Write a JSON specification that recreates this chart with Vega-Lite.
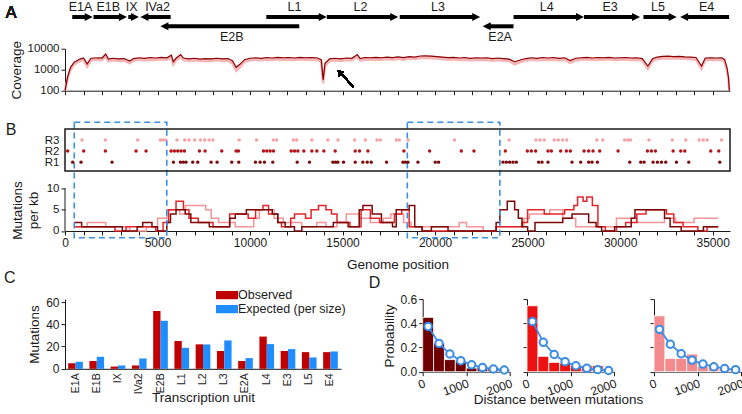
{
"$schema": "https://vega.github.io/schema/vega-lite/v6.json",
"background": "white",
"padding": {"left": 4, "top": 1, "right": 0, "bottom": 0},
"config": {
  "font": "Liberation Sans",
  "view": {"stroke": null},
  "axis": {"labelFont": "Liberation Sans", "titleFont": "Liberation Sans", "labelFontSize": 12, "titleFontSize": 13.5, "titleFontWeight": "normal", "labelColor": "#1a1a1a", "titleColor": "#1a1a1a", "domainColor": "#1a1a1a", "tickColor": "#1a1a1a", "grid": false, "tickSize": 4, "labelPadding": 2, "labelOverlap": false, "labelBound": false},
  "title": {"font": "Liberation Sans", "fontSize": 16, "fontWeight": "normal", "color": "#1a1a1a"},
  "legend": {"labelFont": "Liberation Sans", "labelFontSize": 12.5, "labelColor": "#1a1a1a"}
},
"datasets": {
  "genes": [
    {"gene":"E1A","start":390,"end":1280,"dir":"right","track":"upper"},
    {"gene":"E1B","start":1540,"end":3130,"dir":"right","track":"upper"},
    {"gene":"IX","start":3420,"end":3780,"dir":"right","track":"upper"},
    {"gene":"IVa2","start":4290,"end":5710,"dir":"left","track":"upper"},
    {"gene":"E2B","start":5370,"end":12660,"dir":"left","track":"lower"},
    {"gene":"L1","start":10880,"end":13930,"dir":"right","track":"upper"},
    {"gene":"L2","start":14150,"end":17790,"dir":"right","track":"upper"},
    {"gene":"L3","start":18090,"end":22220,"dir":"right","track":"upper"},
    {"gene":"E2A","start":22790,"end":24240,"dir":"left","track":"lower"},
    {"gene":"L4","start":24240,"end":27830,"dir":"right","track":"upper"},
    {"gene":"E3","start":28050,"end":30860,"dir":"right","track":"upper"},
    {"gene":"L5","start":31260,"end":32840,"dir":"right","track":"upper"},
    {"gene":"E4","start":33460,"end":35890,"dir":"left","track":"upper"}
  ],
  "coverage": [
    {"pos":0,"cov":100,"low":100},{"pos":150,"cov":500,"low":400},{"pos":300,"cov":1300,"low":1000},{"pos":500,"cov":2300,"low":1800},
    {"pos":800,"cov":3200,"low":2600},{"pos":1000,"cov":3600,"low":2900},{"pos":1200,"cov":1900,"low":1400},{"pos":1400,"cov":3500,"low":2800},
    {"pos":1800,"cov":3700,"low":3000},{"pos":2000,"cov":3600,"low":2900},{"pos":2200,"cov":5600,"low":4200},{"pos":2350,"cov":3200,"low":2500},
    {"pos":2600,"cov":3500,"low":2800},{"pos":2900,"cov":3300,"low":2600},{"pos":3200,"cov":3400,"low":2700},{"pos":3500,"cov":2600,"low":2000},
    {"pos":3700,"cov":3400,"low":2700},{"pos":4000,"cov":3700,"low":3000},{"pos":4300,"cov":3500,"low":2800},{"pos":4600,"cov":3800,"low":3000},
    {"pos":4900,"cov":3600,"low":2900},{"pos":5200,"cov":3900,"low":3100},{"pos":5500,"cov":3700,"low":3000},{"pos":5750,"cov":4900,"low":3800},
    {"pos":5850,"cov":2400,"low":1800},{"pos":6000,"cov":3500,"low":2800},{"pos":6250,"cov":5300,"low":4000},{"pos":6400,"cov":3600,"low":2900},
    {"pos":6700,"cov":3300,"low":2600},{"pos":7000,"cov":3500,"low":2800},{"pos":7300,"cov":3200,"low":2600},{"pos":7600,"cov":3400,"low":2700},
    {"pos":7900,"cov":3300,"low":2600},{"pos":8200,"cov":3500,"low":2800},{"pos":8500,"cov":3300,"low":2600},{"pos":8800,"cov":3400,"low":2700},
    {"pos":9050,"cov":2700,"low":2000},{"pos":9250,"cov":1300,"low":900},{"pos":9450,"cov":1800,"low":1300},{"pos":9700,"cov":3000,"low":2400},
    {"pos":10000,"cov":3500,"low":2800},{"pos":10300,"cov":3700,"low":3000},{"pos":10600,"cov":3500,"low":2800},{"pos":10900,"cov":3800,"low":3000},
    {"pos":11200,"cov":3600,"low":2900},{"pos":11500,"cov":3900,"low":3100},{"pos":11800,"cov":3700,"low":3000},{"pos":12100,"cov":3800,"low":3000},
    {"pos":12400,"cov":3600,"low":2900},{"pos":12700,"cov":3900,"low":3100},{"pos":13000,"cov":3700,"low":3000},{"pos":13300,"cov":3800,"low":3000},
    {"pos":13600,"cov":3700,"low":3000},{"pos":13850,"cov":3000,"low":2300},{"pos":13950,"cov":330,"low":220},{"pos":14050,"cov":2000,"low":1500},
    {"pos":14300,"cov":3300,"low":2600},{"pos":14600,"cov":3500,"low":2800},{"pos":14900,"cov":3300,"low":2600},{"pos":15200,"cov":3600,"low":2900},
    {"pos":15500,"cov":3500,"low":2800},{"pos":15800,"cov":5300,"low":4000},{"pos":15950,"cov":3400,"low":2700},{"pos":16200,"cov":3800,"low":3000},
    {"pos":16500,"cov":3700,"low":3000},{"pos":16800,"cov":3900,"low":3100},{"pos":17100,"cov":3700,"low":3000},{"pos":17400,"cov":4000,"low":3200},
    {"pos":17700,"cov":3800,"low":3000},{"pos":18000,"cov":4100,"low":3300},{"pos":18300,"cov":3800,"low":3000},{"pos":18600,"cov":4200,"low":3400},
    {"pos":18900,"cov":4000,"low":3200},{"pos":19200,"cov":4500,"low":3600},{"pos":19500,"cov":4600,"low":3700},{"pos":19800,"cov":4400,"low":3500},
    {"pos":20100,"cov":4200,"low":3400},{"pos":20400,"cov":4000,"low":3200},{"pos":20700,"cov":3800,"low":3000},{"pos":21000,"cov":3900,"low":3100},
    {"pos":21300,"cov":3600,"low":2900},{"pos":21600,"cov":3800,"low":3000},{"pos":21900,"cov":3500,"low":2800},{"pos":22200,"cov":3700,"low":3000},
    {"pos":22500,"cov":3600,"low":2900},{"pos":22800,"cov":3700,"low":3000},{"pos":23100,"cov":3400,"low":2700},{"pos":23400,"cov":3600,"low":2900},
    {"pos":23700,"cov":3400,"low":2700},{"pos":24000,"cov":3200,"low":2600},{"pos":24300,"cov":2400,"low":1800},{"pos":24600,"cov":2900,"low":2300},
    {"pos":24900,"cov":3400,"low":2700},{"pos":25200,"cov":3700,"low":3000},{"pos":25500,"cov":3500,"low":2800},{"pos":25800,"cov":3800,"low":3000},
    {"pos":26100,"cov":3600,"low":2900},{"pos":26400,"cov":3800,"low":3000},{"pos":26700,"cov":3500,"low":2800},{"pos":27000,"cov":3700,"low":3000},
    {"pos":27300,"cov":2700,"low":2100},{"pos":27600,"cov":3500,"low":2800},{"pos":27900,"cov":3700,"low":3000},{"pos":28200,"cov":3900,"low":3100},
    {"pos":28500,"cov":3600,"low":2900},{"pos":28800,"cov":3800,"low":3000},{"pos":29100,"cov":3700,"low":3000},{"pos":29400,"cov":3900,"low":3100},
    {"pos":29700,"cov":3600,"low":2900},{"pos":30000,"cov":3700,"low":3000},{"pos":30300,"cov":3800,"low":3000},{"pos":30600,"cov":3600,"low":2900},
    {"pos":30900,"cov":3700,"low":3000},{"pos":31200,"cov":3400,"low":2700},{"pos":31500,"cov":1500,"low":1100},{"pos":31750,"cov":3300,"low":2600},
    {"pos":32000,"cov":4000,"low":3200},{"pos":32300,"cov":4300,"low":3400},{"pos":32600,"cov":4400,"low":3500},{"pos":32900,"cov":4200,"low":3400},
    {"pos":33200,"cov":4300,"low":3400},{"pos":33500,"cov":4100,"low":3300},{"pos":33800,"cov":4000,"low":3200},{"pos":34100,"cov":3800,"low":3000},
    {"pos":34400,"cov":1500,"low":1100},{"pos":34600,"cov":3600,"low":2900},{"pos":34900,"cov":3700,"low":3000},{"pos":35200,"cov":3600,"low":2900},
    {"pos":35500,"cov":3700,"low":3000},{"pos":35650,"cov":3000,"low":2300},{"pos":35780,"cov":1200,"low":900},{"pos":35860,"cov":400,"low":300},
    {"pos":35900,"cov":100,"low":100}
  ],
  "regions": [{"start":500,"end":5500},{"start":18500,"end":23500}],
  "dots": [
    {"rep":"R3","pos":920},{"rep":"R3","pos":2180},{"rep":"R3","pos":3930},{"rep":"R3","pos":5150},{"rep":"R3","pos":5290},{"rep":"R3","pos":5440},
    {"rep":"R3","pos":6050},{"rep":"R3","pos":6470},{"rep":"R3","pos":6700},{"rep":"R3","pos":7010},{"rep":"R3","pos":7320},{"rep":"R3","pos":7550},
    {"rep":"R3","pos":7790},{"rep":"R3","pos":8000},{"rep":"R3","pos":9410},{"rep":"R3","pos":10350},{"rep":"R3","pos":11260},{"rep":"R3","pos":11440},
    {"rep":"R3","pos":12340},{"rep":"R3","pos":12520},{"rep":"R3","pos":13340},{"rep":"R3","pos":14200},{"rep":"R3","pos":14750},{"rep":"R3","pos":15650},
    {"rep":"R3","pos":16230},{"rep":"R3","pos":16860},{"rep":"R3","pos":17040},{"rep":"R3","pos":17910},{"rep":"R3","pos":18070},{"rep":"R3","pos":18540},
    {"rep":"R3","pos":21050},{"rep":"R3","pos":24000},{"rep":"R3","pos":25450},{"rep":"R3","pos":25670},{"rep":"R3","pos":25900},{"rep":"R3","pos":26440},
    {"rep":"R3","pos":26660},{"rep":"R3","pos":26890},{"rep":"R3","pos":27110},{"rep":"R3","pos":28740},{"rep":"R3","pos":29060},{"rep":"R3","pos":30240},
    {"rep":"R3","pos":30420},{"rep":"R3","pos":30560},{"rep":"R3","pos":31560},{"rep":"R3","pos":32820},{"rep":"R3","pos":33550},{"rep":"R3","pos":34270},
    {"rep":"R3","pos":34490},{"rep":"R3","pos":34700},{"rep":"R3","pos":35480},
    {"rep":"R2","pos":144},{"rep":"R2","pos":1010},{"rep":"R2","pos":2181},{"rep":"R2","pos":3840},{"rep":"R2","pos":4380},{"rep":"R2","pos":5733},
    {"rep":"R2","pos":5913},{"rep":"R2","pos":6093},{"rep":"R2","pos":6273},{"rep":"R2","pos":6453},{"rep":"R2","pos":7264},{"rep":"R2","pos":7570},
    {"rep":"R2","pos":8472},{"rep":"R2","pos":9247},{"rep":"R2","pos":9373},{"rep":"R2","pos":10725},{"rep":"R2","pos":10905},{"rep":"R2","pos":11085},
    {"rep":"R2","pos":11266},{"rep":"R2","pos":12222},{"rep":"R2","pos":12403},{"rep":"R2","pos":12583},{"rep":"R2","pos":12907},{"rep":"R2","pos":13340},
    {"rep":"R2","pos":13610},{"rep":"R2","pos":13989},{"rep":"R2","pos":14602},{"rep":"R2","pos":15683},{"rep":"R2","pos":15918},{"rep":"R2","pos":16369},
    {"rep":"R2","pos":18315},{"rep":"R2","pos":19703},{"rep":"R2","pos":21416},{"rep":"R2","pos":22101},{"rep":"R2","pos":23795},{"rep":"R2","pos":24985},
    {"rep":"R2","pos":25201},{"rep":"R2","pos":25436},{"rep":"R2","pos":26103},{"rep":"R2","pos":26283},{"rep":"R2","pos":26788},{"rep":"R2","pos":27094},
    {"rep":"R2","pos":27311},{"rep":"R2","pos":28050},{"rep":"R2","pos":28302},{"rep":"R2","pos":28536},{"rep":"R2","pos":28897},{"rep":"R2","pos":29889},
    {"rep":"R2","pos":31475},{"rep":"R2","pos":31691},{"rep":"R2","pos":31908},{"rep":"R2","pos":32863},{"rep":"R2","pos":33277},{"rep":"R2","pos":33494},
    {"rep":"R2","pos":34900},{"rep":"R2","pos":35332},
    {"rep":"R1","pos":415},{"rep":"R1","pos":866},{"rep":"R1","pos":2542},{"rep":"R1","pos":5859},{"rep":"R1","pos":6237},{"rep":"R1","pos":6399},
    {"rep":"R1","pos":6543},{"rep":"R1","pos":6904},{"rep":"R1","pos":7174},{"rep":"R1","pos":7895},{"rep":"R1","pos":8219},{"rep":"R1","pos":9013},
    {"rep":"R1","pos":9391},{"rep":"R1","pos":10292},{"rep":"R1","pos":10544},{"rep":"R1","pos":10779},{"rep":"R1","pos":11230},{"rep":"R1","pos":12547},
    {"rep":"R1","pos":13214},{"rep":"R1","pos":14476},{"rep":"R1","pos":14620},{"rep":"R1","pos":14746},{"rep":"R1","pos":15053},{"rep":"R1","pos":15683},
    {"rep":"R1","pos":16098},{"rep":"R1","pos":16332},{"rep":"R1","pos":16549},{"rep":"R1","pos":17378},{"rep":"R1","pos":18262},{"rep":"R1","pos":18388},
    {"rep":"R1","pos":18532},{"rep":"R1","pos":19073},{"rep":"R1","pos":20010},{"rep":"R1","pos":20190},{"rep":"R1","pos":23669},{"rep":"R1","pos":23849},
    {"rep":"R1","pos":24030},{"rep":"R1","pos":24210},{"rep":"R1","pos":24390},{"rep":"R1","pos":25598},{"rep":"R1","pos":25778},{"rep":"R1","pos":26103},
    {"rep":"R1","pos":27401},{"rep":"R1","pos":27869},{"rep":"R1","pos":28302},{"rep":"R1","pos":28482},{"rep":"R1","pos":28771},{"rep":"R1","pos":30520},
    {"rep":"R1","pos":31115},{"rep":"R1","pos":31295},{"rep":"R1","pos":31782},{"rep":"R1","pos":32016},{"rep":"R1","pos":32233},{"rep":"R1","pos":32467},
    {"rep":"R1","pos":33044},{"rep":"R1","pos":33711},{"rep":"R1","pos":35387}
  ],
  "mut": [
    {"rep":"R3","pos":500,"rate":1},{"rep":"R3","pos":1200,"rate":2},{"rep":"R3","pos":2200,"rate":1},{"rep":"R3","pos":3500,"rate":0},{"rep":"R3","pos":4400,"rate":1},
    {"rep":"R3","pos":5000,"rate":3},{"rep":"R3","pos":5500,"rate":5},{"rep":"R3","pos":6200,"rate":4},{"rep":"R3","pos":6500,"rate":6},{"rep":"R3","pos":7600,"rate":5},
    {"rep":"R3","pos":7900,"rate":3},{"rep":"R3","pos":8300,"rate":2},{"rep":"R3","pos":9200,"rate":1},{"rep":"R3","pos":10200,"rate":3},{"rep":"R3","pos":10500,"rate":5},
    {"rep":"R3","pos":11300,"rate":3},{"rep":"R3","pos":11800,"rate":2},{"rep":"R3","pos":12800,"rate":1},{"rep":"R3","pos":13600,"rate":2},{"rep":"R3","pos":14100,"rate":1},
    {"rep":"R3","pos":14700,"rate":2},{"rep":"R3","pos":15200,"rate":4},{"rep":"R3","pos":15900,"rate":3},{"rep":"R3","pos":16500,"rate":2},{"rep":"R3","pos":17200,"rate":3},
    {"rep":"R3","pos":17600,"rate":4},{"rep":"R3","pos":18300,"rate":2},{"rep":"R3","pos":18700,"rate":1},{"rep":"R3","pos":21300,"rate":2},{"rep":"R3","pos":21700,"rate":1},
    {"rep":"R3","pos":22600,"rate":0},{"rep":"R3","pos":23300,"rate":1},{"rep":"R3","pos":24800,"rate":3},{"rep":"R3","pos":25100,"rate":4},{"rep":"R3","pos":26200,"rate":5},
    {"rep":"R3","pos":26900,"rate":3},{"rep":"R3","pos":27600,"rate":1},{"rep":"R3","pos":28900,"rate":1},{"rep":"R3","pos":29800,"rate":3},{"rep":"R3","pos":30900,"rate":2},
    {"rep":"R3","pos":32400,"rate":3},{"rep":"R3","pos":33000,"rate":2},{"rep":"R3","pos":34000,"rate":3},{"rep":"R3","pos":35300,"rate":3},
    {"rep":"R2","pos":500,"rate":1},{"rep":"R2","pos":2700,"rate":0},{"rep":"R2","pos":3300,"rate":1},{"rep":"R2","pos":4900,"rate":0},{"rep":"R2","pos":5300,"rate":2},
    {"rep":"R2","pos":5600,"rate":5},{"rep":"R2","pos":6000,"rate":7},{"rep":"R2","pos":6400,"rate":5},{"rep":"R2","pos":6700,"rate":3},{"rep":"R2","pos":7200,"rate":2},
    {"rep":"R2","pos":8000,"rate":1},{"rep":"R2","pos":8900,"rate":4},{"rep":"R2","pos":9900,"rate":3},{"rep":"R2","pos":10300,"rate":5},{"rep":"R2","pos":10700,"rate":6},
    {"rep":"R2","pos":11000,"rate":4},{"rep":"R2","pos":11500,"rate":2},{"rep":"R2","pos":11700,"rate":1},{"rep":"R2","pos":12200,"rate":3},{"rep":"R2","pos":12400,"rate":4},
    {"rep":"R2","pos":13000,"rate":3},{"rep":"R2","pos":13300,"rate":5},{"rep":"R2","pos":13700,"rate":6},{"rep":"R2","pos":14100,"rate":5},{"rep":"R2","pos":14400,"rate":4},
    {"rep":"R2","pos":14700,"rate":2},{"rep":"R2","pos":15400,"rate":1},{"rep":"R2","pos":16000,"rate":5},{"rep":"R2","pos":16500,"rate":3},{"rep":"R2","pos":17000,"rate":2},
    {"rep":"R2","pos":17800,"rate":4},{"rep":"R2","pos":18200,"rate":5},{"rep":"R2","pos":18600,"rate":1},{"rep":"R2","pos":19300,"rate":0},{"rep":"R2","pos":23300,"rate":1},
    {"rep":"R2","pos":24700,"rate":2},{"rep":"R2","pos":25000,"rate":5},{"rep":"R2","pos":25900,"rate":4},{"rep":"R2","pos":27000,"rate":5},{"rep":"R2","pos":27500,"rate":6},
    {"rep":"R2","pos":27700,"rate":8},{"rep":"R2","pos":28000,"rate":7},{"rep":"R2","pos":28200,"rate":8},{"rep":"R2","pos":28500,"rate":6},{"rep":"R2","pos":28800,"rate":1},
    {"rep":"R2","pos":29200,"rate":0},{"rep":"R2","pos":29800,"rate":1},{"rep":"R2","pos":30300,"rate":2},{"rep":"R2","pos":30900,"rate":4},{"rep":"R2","pos":31400,"rate":5},
    {"rep":"R2","pos":32500,"rate":4},{"rep":"R2","pos":32900,"rate":2},{"rep":"R2","pos":33400,"rate":1},{"rep":"R2","pos":34200,"rate":0},{"rep":"R2","pos":34700,"rate":1},
    {"rep":"R2","pos":35300,"rate":1},
    {"rep":"R1","pos":500,"rate":2},{"rep":"R1","pos":900,"rate":1},{"rep":"R1","pos":3100,"rate":0},{"rep":"R1","pos":3900,"rate":1},{"rep":"R1","pos":4200,"rate":2},
    {"rep":"R1","pos":4700,"rate":1},{"rep":"R1","pos":5000,"rate":0},{"rep":"R1","pos":5500,"rate":2},{"rep":"R1","pos":5700,"rate":4},{"rep":"R1","pos":6000,"rate":5},
    {"rep":"R1","pos":6500,"rate":4},{"rep":"R1","pos":6800,"rate":2},{"rep":"R1","pos":7800,"rate":1},{"rep":"R1","pos":8900,"rate":3},{"rep":"R1","pos":9200,"rate":4},
    {"rep":"R1","pos":9800,"rate":5},{"rep":"R1","pos":11200,"rate":4},{"rep":"R1","pos":11500,"rate":2},{"rep":"R1","pos":11900,"rate":1},{"rep":"R1","pos":12400,"rate":0},
    {"rep":"R1","pos":12800,"rate":1},{"rep":"R1","pos":14500,"rate":2},{"rep":"R1","pos":15300,"rate":1},{"rep":"R1","pos":15900,"rate":5},{"rep":"R1","pos":16100,"rate":6},
    {"rep":"R1","pos":16600,"rate":4},{"rep":"R1","pos":17100,"rate":2},{"rep":"R1","pos":17700,"rate":1},{"rep":"R1","pos":17900,"rate":5},{"rep":"R1","pos":18600,"rate":6},
    {"rep":"R1","pos":18900,"rate":1},{"rep":"R1","pos":19300,"rate":0},{"rep":"R1","pos":19800,"rate":1},{"rep":"R1","pos":20700,"rate":0},{"rep":"R1","pos":23300,"rate":2},
    {"rep":"R1","pos":23500,"rate":5},{"rep":"R1","pos":23900,"rate":7},{"rep":"R1","pos":24300,"rate":5},{"rep":"R1","pos":24500,"rate":3},{"rep":"R1","pos":24700,"rate":1},
    {"rep":"R1","pos":25000,"rate":0},{"rep":"R1","pos":25400,"rate":2},{"rep":"R1","pos":26900,"rate":3},{"rep":"R1","pos":27400,"rate":4},{"rep":"R1","pos":28300,"rate":2},
    {"rep":"R1","pos":28700,"rate":1},{"rep":"R1","pos":29000,"rate":0},{"rep":"R1","pos":29700,"rate":1},{"rep":"R1","pos":30600,"rate":3},{"rep":"R1","pos":30800,"rate":5},
    {"rep":"R1","pos":32400,"rate":3},{"rep":"R1","pos":32700,"rate":1},{"rep":"R1","pos":33300,"rate":0},{"rep":"R1","pos":34500,"rate":1},{"rep":"R1","pos":35300,"rate":1}
  ],
  "units": [
    {"unit":"E1A","type":"Observed","value":5},{"unit":"E1A","type":"Expected (per size)","value":6.3},
    {"unit":"E1B","type":"Observed","value":7},{"unit":"E1B","type":"Expected (per size)","value":10.8},
    {"unit":"IX","type":"Observed","value":2},{"unit":"IX","type":"Expected (per size)","value":3.0},
    {"unit":"IVa2","type":"Observed","value":3},{"unit":"IVa2","type":"Expected (per size)","value":9.3},
    {"unit":"E2B","type":"Observed","value":52},{"unit":"E2B","type":"Expected (per size)","value":43.2},
    {"unit":"L1","type":"Observed","value":25},{"unit":"L1","type":"Expected (per size)","value":18.9},
    {"unit":"L2","type":"Observed","value":22},{"unit":"L2","type":"Expected (per size)","value":21.9},
    {"unit":"L3","type":"Observed","value":16},{"unit":"L3","type":"Expected (per size)","value":25.5},
    {"unit":"E2A","type":"Observed","value":7},{"unit":"E2A","type":"Expected (per size)","value":9.6},
    {"unit":"L4","type":"Observed","value":29},{"unit":"L4","type":"Expected (per size)","value":22.2},
    {"unit":"E3","type":"Observed","value":16},{"unit":"E3","type":"Expected (per size)","value":17.7},
    {"unit":"L5","type":"Observed","value":15},{"unit":"L5","type":"Expected (per size)","value":10.2},
    {"unit":"E4","type":"Observed","value":15},{"unit":"E4","type":"Expected (per size)","value":15.6}
  ],
  "hist": [
    {"rep":"R1","start":0,"end":250,"prob":0.449},{"rep":"R1","start":250,"end":500,"prob":0.234},{"rep":"R1","start":500,"end":750,"prob":0.1},{"rep":"R1","start":750,"end":1000,"prob":0.083},
    {"rep":"R1","start":1000,"end":1250,"prob":0.03},{"rep":"R1","start":1250,"end":1500,"prob":0.04},{"rep":"R1","start":1500,"end":1750,"prob":0.035},{"rep":"R1","start":1750,"end":2000,"prob":0.02},
    {"rep":"R2","start":0,"end":250,"prob":0.545},{"rep":"R2","start":250,"end":500,"prob":0.127},{"rep":"R2","start":500,"end":750,"prob":0.077},{"rep":"R2","start":750,"end":1000,"prob":0.07},
    {"rep":"R2","start":1000,"end":1250,"prob":0.05},{"rep":"R2","start":1250,"end":1500,"prob":0.05},{"rep":"R2","start":1500,"end":1750,"prob":0.05},{"rep":"R2","start":1750,"end":2000,"prob":0.01},
    {"rep":"R3","start":0,"end":250,"prob":0.462},{"rep":"R3","start":250,"end":500,"prob":0.11},{"rep":"R3","start":500,"end":750,"prob":0.11},{"rep":"R3","start":750,"end":1000,"prob":0.146},
    {"rep":"R3","start":1000,"end":1250,"prob":0.044},{"rep":"R3","start":1250,"end":1500,"prob":0.04},{"rep":"R3","start":1500,"end":1750,"prob":0.03},{"rep":"R3","start":1750,"end":2000,"prob":0.02}
  ],
  "expected": [
    {"rep":"R1","center":125,"prob":0.374},{"rep":"R1","center":375,"prob":0.234},{"rep":"R1","center":625,"prob":0.146},{"rep":"R1","center":875,"prob":0.091},
    {"rep":"R1","center":1125,"prob":0.057},{"rep":"R1","center":1375,"prob":0.035},{"rep":"R1","center":1625,"prob":0.022},{"rep":"R1","center":1875,"prob":0.014},
    {"rep":"R2","center":125,"prob":0.415},{"rep":"R2","center":375,"prob":0.243},{"rep":"R2","center":625,"prob":0.142},{"rep":"R2","center":875,"prob":0.083},
    {"rep":"R2","center":1125,"prob":0.049},{"rep":"R2","center":1375,"prob":0.028},{"rep":"R2","center":1625,"prob":0.017},{"rep":"R2","center":1875,"prob":0.01},
    {"rep":"R3","center":125,"prob":0.35},{"rep":"R3","center":375,"prob":0.227},{"rep":"R3","center":625,"prob":0.148},{"rep":"R3","center":875,"prob":0.096},
    {"rep":"R3","center":1125,"prob":0.063},{"rep":"R3","center":1375,"prob":0.041},{"rep":"R3","center":1625,"prob":0.026},{"rep":"R3","center":1875,"prob":0.017}
  ]
},
"bounds": "flush",
"spacing": 21.7,
"resolve": {"scale": {"color": "independent"}, "legend": {"color": "independent"}},
"vconcat": [
  {
    "width": 665, "height": 9.3,
    "data": {"name": "genes"},
    "transform": [{"calculate": "(datum.start + datum.end) / 2", "as": "mid"}],
    "layer": [
      {"mark": {"type": "rule", "strokeWidth": 4, "color": "black", "strokeCap": "butt"},
       "encoding": {
         "x": {"field": "start", "type": "quantitative", "scale": {"domain": [0, 35938], "nice": false}, "axis": null},
         "x2": {"field": "end"},
         "y": {"field": "track", "type": "nominal", "scale": {"type": "point", "domain": ["upper", "lower"], "padding": 0}, "axis": null}}},
      {"transform": [{"filter": "datum.dir === 'right'"}],
       "mark": {"type": "point", "filled": true, "color": "black", "opacity": 1, "size": 64, "shape": "M-1,-1L1,0L-1,1Z"},
       "encoding": {"x": {"field": "end", "type": "quantitative", "axis": null}, "y": {"field": "track", "type": "nominal", "axis": null}}},
      {"transform": [{"filter": "datum.dir === 'left'"}],
       "mark": {"type": "point", "filled": true, "color": "black", "opacity": 1, "size": 64, "shape": "M1,-1L-1,0L1,1Z"},
       "encoding": {"x": {"field": "start", "type": "quantitative", "axis": null}, "y": {"field": "track", "type": "nominal", "axis": null}}},
      {"transform": [{"filter": "datum.track === 'upper'"}],
       "mark": {"type": "text", "dy": -10, "fontSize": 12.5, "color": "#1a1a1a"},
       "encoding": {"x": {"field": "mid", "type": "quantitative", "axis": null}, "y": {"field": "track", "type": "nominal", "axis": null}, "text": {"field": "gene"}}},
      {"transform": [{"filter": "datum.track === 'lower'"}],
       "mark": {"type": "text", "dy": 11, "fontSize": 12.5, "color": "#1a1a1a"},
       "encoding": {"x": {"field": "mid", "type": "quantitative", "axis": null}, "y": {"field": "track", "type": "nominal", "axis": null}, "text": {"field": "gene"}}},
      {"mark": {"type": "text", "text": "A", "fontSize": 16, "align": "left", "dy": -4, "color": "#1a1a1a"},
       "encoding": {"x": {"datum": -3200, "type": "quantitative", "axis": null}, "y": {"datum": "upper", "type": "nominal", "axis": null}}}
    ]
  },
  {
    "width": 665, "height": 42,
    "data": {"name": "coverage"},
    "layer": [
      {"mark": {"type": "area", "color": "#f6b5b7", "opacity": 1},
       "encoding": {
         "x": {"field": "pos", "type": "quantitative", "scale": {"domain": [0, 35938], "nice": false},
               "axis": {"values": [0,1000,2000,3000,4000,5000,6000,7000,8000,9000,10000,11000,12000,13000,14000,15000,16000,17000,18000,19000,20000,21000,22000,23000,24000,25000,26000,27000,28000,29000,30000,31000,32000,33000,34000,35000], "tickCount": 100, "labels": false, "title": null}},
         "y": {"field": "low", "type": "quantitative", "scale": {"type": "log", "domain": [100, 10000], "nice": false},
               "axis": {"values": [100, 1000, 10000], "tickCount": 100, "format": "d", "title": "Coverage", "labelFontSize": 11.5}},
         "y2": {"field": "cov"}}},
      {"mark": {"type": "line", "color": "#f6b5b7", "strokeWidth": 2.5},
       "encoding": {"x": {"field": "pos", "type": "quantitative"}, "y": {"field": "low", "type": "quantitative"}}},
      {"mark": {"type": "line", "color": "#8b0000", "strokeWidth": 1.2},
       "encoding": {"x": {"field": "pos", "type": "quantitative"}, "y": {"field": "cov", "type": "quantitative"}}},
      {"mark": {"type": "rule", "strokeWidth": 1.5, "color": "black"},
       "encoding": {"x": {"datum": 15575, "type": "quantitative"}, "y": {"datum": 150, "type": "quantitative"}, "x2": {"datum": 14950}, "y2": {"datum": 640}}},
      {"mark": {"type": "point", "shape": "triangle-up", "filled": true, "color": "black", "size": 40, "angle": -43, "opacity": 1},
       "encoding": {"x": {"datum": 14830, "type": "quantitative"}, "y": {"datum": 770, "type": "quantitative"}}}
    ]
  },
  {
    "width": 665, "height": 164.9,
    "layer": [
      {"data": {"name": "mut"},
       "mark": {"type": "line", "interpolate": "step-after", "strokeWidth": 1.5},
       "encoding": {
         "x": {"field": "pos", "type": "quantitative", "scale": {"domain": [0, 35938], "nice": false},
               "axis": {"values": [0,1000,2000,3000,4000,5000,6000,7000,8000,9000,10000,11000,12000,13000,14000,15000,16000,17000,18000,19000,20000,21000,22000,23000,24000,25000,26000,27000,28000,29000,30000,31000,32000,33000,34000,35000], "tickCount": 100,
                        "labelExpr": "datum.value % 5000 === 0 ? datum.label : ''", "format": "d", "labelFlush": false, "labelOverlap": false, "title": "Genome position", "titlePadding": 9, "offset": -46.3}},
         "y": {"field": "rate", "type": "quantitative", "scale": {"domain": [-10.9, 27.9], "nice": false, "zero": false},
               "axis": {"values": [0, 5, 10, 16.2, 18.8, 21.4], "tickCount": 100, "format": "d", "labelExpr": "datum.value == 16.2 ? 'R1' : datum.value == 18.8 ? 'R2' : datum.value == 21.4 ? 'R3' : datum.label",
                        "tickOpacity": {"condition": {"test": "datum.value > 12", "value": 0}, "value": 1},
                        "labelFontSize": 11.5, "domain": false, "labelOverlap": false, "labelFlush": false, "title": ["Mutations", "per kb"], "titleY": 97.6}},
         "color": {"field": "rep", "type": "nominal", "scale": {"domain": ["R3", "R2", "R1"], "range": ["#f4959a", "#e3242b", "#7a0a0a"]}, "legend": null}}},
      {"data": {"name": "regions"},
       "mark": {"type": "rect", "fill": "transparent", "stroke": "#3b8fe0", "strokeWidth": 1.6, "strokeDash": [6, 4]},
       "encoding": {"x": {"field": "start", "type": "quantitative"}, "x2": {"field": "end"},
                    "y": {"datum": -1.6, "type": "quantitative"}, "y2": {"datum": 25.6}}},
      {"data": {"values": [{}]},
       "mark": {"type": "rect", "fill": "transparent", "stroke": "#1a1a1a", "strokeWidth": 1.5},
       "encoding": {"x": {"datum": 0, "type": "quantitative"}, "x2": {"datum": 35938},
                    "y": {"datum": 14.1, "type": "quantitative"}, "y2": {"datum": 24}}},
      {"data": {"name": "dots"}, "transform": [{"filter": "datum.rep === 'R3'"}],
       "mark": {"type": "circle", "size": 12, "color": "#f4a3a6", "opacity": 1},
       "encoding": {"x": {"field": "pos", "type": "quantitative"}, "y": {"datum": 21.4, "type": "quantitative"}}},
      {"data": {"name": "dots"}, "transform": [{"filter": "datum.rep === 'R2'"}],
       "mark": {"type": "circle", "size": 12, "color": "#b51218", "opacity": 1},
       "encoding": {"x": {"field": "pos", "type": "quantitative"}, "y": {"datum": 18.8, "type": "quantitative"}}},
      {"data": {"name": "dots"}, "transform": [{"filter": "datum.rep === 'R1'"}],
       "mark": {"type": "circle", "size": 12, "color": "#7a0a0a", "opacity": 1},
       "encoding": {"x": {"field": "pos", "type": "quantitative"}, "y": {"datum": 16.2, "type": "quantitative"}}},
      {"data": {"values": [{}]},
       "mark": {"type": "rule", "color": "#1a1a1a", "strokeWidth": 1},
       "encoding": {"x": {"datum": 0, "type": "quantitative"}, "y": {"datum": 0, "type": "quantitative"}, "y2": {"datum": 10}}},
      {"data": {"values": [{}]},
       "mark": {"type": "text", "text": "B", "fontSize": 16, "align": "left", "color": "#1a1a1a"},
       "encoding": {"x": {"datum": -3200, "type": "quantitative"}, "y": {"datum": 23.8, "type": "quantitative"}}}
    ]
  },
  {
    "bounds": "flush",
    "spacing": 81.7,
    "resolve": {"scale": {"color": "independent"}, "legend": {"color": "independent"}},
    "hconcat": [
      {
        "width": 276, "height": 69.7,
        "title": {"text": "C", "anchor": "start", "frame": "group", "dx": -61, "offset": 2},
        "data": {"name": "units"},
        "mark": {"type": "bar"},
        "encoding": {
          "x": {"field": "unit", "type": "nominal", "sort": null, "scale": {"paddingInner": 0.31, "paddingOuter": 0.15},
                "axis": {"labelAngle": -90, "ticks": false, "title": "Transcription unit", "labelFontSize": 10.5, "labelPadding": 4, "titlePadding": -3}},
          "xOffset": {"field": "type", "type": "nominal", "sort": null, "scale": {"domain": ["Observed", "Expected (per size)"]}},
          "y": {"field": "value", "type": "quantitative", "scale": {"domain": [0, 62.7], "nice": false},
                "axis": {"values": [0, 20, 40, 60], "tickCount": 100, "format": "d", "title": "Mutations"}},
          "color": {"field": "type", "type": "nominal", "scale": {"domain": ["Observed", "Expected (per size)"], "range": ["#c00000", "#1f8cff"]},
                    "legend": {"orient": "none", "legendX": 155, "legendY": -11, "title": null, "symbolType": "M-1.6,-0.6H1.6V0.6H-1.6Z", "symbolSize": 190, "rowPadding": 0, "symbolStrokeWidth": 0}}
        }
      },
      {
        "bounds": "flush",
        "spacing": 17.3,
        "hconcat": [
          {
            "width": 87, "height": 72.6,
            "title": {"text": "D", "anchor": "start", "frame": "group", "dx": -54, "offset": 2},
            "layer": [
              {"data": {"name": "hist"}, "transform": [{"filter": "datum.rep === 'R1'"}],
               "mark": {"type": "rect", "color": "#6e0000", "stroke": "white", "strokeWidth": 0.8},
               "encoding": {
                 "x": {"field": "start", "type": "quantitative", "scale": {"domain": [0, 2000], "nice": false},
                       "axis": {"values": [0, 1000, 2000], "tickCount": 100, "format": "d", "labelAngle": -20, "labelAlign": "right", "labelBaseline": "top", "labelFlush": false, "labelOverlap": false, "title": null}},
                 "x2": {"field": "end"},
                 "y": {"field": "prob", "type": "quantitative", "scale": {"domain": [0, 0.6], "nice": false},
                       "axis": {"values": [0, 0.2, 0.4, 0.6], "tickCount": 100, "format": ".1f", "labelOverlap": false, "title": "Probability"}},
                 "y2": {"datum": 0}}},
              {"data": {"name": "expected"}, "transform": [{"filter": "datum.rep === 'R1'"}],
               "mark": {"type": "line", "color": "#3a8de6", "strokeWidth": 1.8},
               "encoding": {"x": {"field": "center", "type": "quantitative"}, "y": {"field": "prob", "type": "quantitative"}}},
              {"data": {"name": "expected"}, "transform": [{"filter": "datum.rep === 'R1'"}],
               "mark": {"type": "point", "filled": true, "fill": "white", "stroke": "#3a8de6", "strokeWidth": 2, "size": 55, "opacity": 1},
               "encoding": {"x": {"field": "center", "type": "quantitative"}, "y": {"field": "prob", "type": "quantitative"}}}
            ]
          },
          {
            "bounds": "flush",
            "spacing": 40,
            "hconcat": [
              {
                "width": 87, "height": 72.6,
                "layer": [
                  {"data": {"name": "hist"}, "transform": [{"filter": "datum.rep === 'R2'"}],
                   "mark": {"type": "rect", "color": "#ee1111", "stroke": "white", "strokeWidth": 0.8},
                   "encoding": {
                     "x": {"field": "start", "type": "quantitative", "scale": {"domain": [0, 2000], "nice": false},
                           "axis": {"values": [0, 1000, 2000], "tickCount": 100, "format": "d", "labelAngle": -20, "labelAlign": "right", "labelBaseline": "top", "labelFlush": false, "labelOverlap": false, "title": "Distance between mutations", "titleX": 31, "titlePadding": -5}},
                     "x2": {"field": "end"},
                     "y": {"field": "prob", "type": "quantitative", "scale": {"domain": [0, 0.6], "nice": false},
                           "axis": {"values": [0, 0.2, 0.4, 0.6], "tickCount": 100, "labels": false, "title": null}},
                     "y2": {"datum": 0}}},
                  {"data": {"name": "expected"}, "transform": [{"filter": "datum.rep === 'R2'"}],
                   "mark": {"type": "line", "color": "#3a8de6", "strokeWidth": 1.8},
                   "encoding": {"x": {"field": "center", "type": "quantitative"}, "y": {"field": "prob", "type": "quantitative"}}},
                  {"data": {"name": "expected"}, "transform": [{"filter": "datum.rep === 'R2'"}],
                   "mark": {"type": "point", "filled": true, "fill": "white", "stroke": "#3a8de6", "strokeWidth": 2, "size": 55, "opacity": 1},
                   "encoding": {"x": {"field": "center", "type": "quantitative"}, "y": {"field": "prob", "type": "quantitative"}}}
                ]
              },
              {
                "width": 87, "height": 72.6,
                "layer": [
                  {"data": {"name": "hist"}, "transform": [{"filter": "datum.rep === 'R3'"}],
                   "mark": {"type": "rect", "color": "#f48a8e", "stroke": "white", "strokeWidth": 0.8},
                   "encoding": {
                     "x": {"field": "start", "type": "quantitative", "scale": {"domain": [0, 2000], "nice": false},
                           "axis": {"values": [0, 1000, 2000], "tickCount": 100, "format": "d", "labelAngle": -20, "labelAlign": "right", "labelBaseline": "top", "labelFlush": false, "labelOverlap": false, "title": null}},
                     "x2": {"field": "end"},
                     "y": {"field": "prob", "type": "quantitative", "scale": {"domain": [0, 0.6], "nice": false},
                           "axis": {"values": [0, 0.2, 0.4, 0.6], "tickCount": 100, "labels": false, "title": null}},
                     "y2": {"datum": 0}}},
                  {"data": {"name": "expected"}, "transform": [{"filter": "datum.rep === 'R3'"}],
                   "mark": {"type": "line", "color": "#3a8de6", "strokeWidth": 1.8},
                   "encoding": {"x": {"field": "center", "type": "quantitative"}, "y": {"field": "prob", "type": "quantitative"}}},
                  {"data": {"name": "expected"}, "transform": [{"filter": "datum.rep === 'R3'"}],
                   "mark": {"type": "point", "filled": true, "fill": "white", "stroke": "#3a8de6", "strokeWidth": 2, "size": 55, "opacity": 1},
                   "encoding": {"x": {"field": "center", "type": "quantitative"}, "y": {"field": "prob", "type": "quantitative"}}}
                ]
              }
            ]
          }
        ]
      }
    ]
  }
]
}
